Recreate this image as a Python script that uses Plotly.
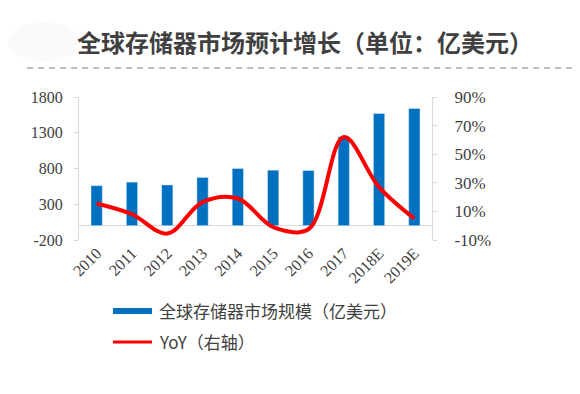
import plotly.graph_objects as go

categories = ["2010", "2011", "2012", "2013", "2014", "2015", "2016", "2017", "2018E", "2019E"]
market_size = [560, 610, 570, 675, 800, 777, 772, 1243, 1570, 1640]
yoy = [0.155, 0.08, -0.055, 0.165, 0.19, -0.01, -0.025, 0.62, 0.27, 0.05]
left_ticks = [-200, 300, 800, 1300, 1800]
right_ticks = [-0.1, 0.1, 0.3, 0.5, 0.7, 0.9]
left_labels = [str(v) for v in left_ticks]
right_labels = [f"{round(v * 100)}%" for v in right_ticks]

serif = "Liberation Serif, Times New Roman, serif"
cjk = "Noto Sans CJK SC"
tick_color = "#404040"
axis_color = "#d9d9d9"

fig = go.Figure()
fig.add_trace(go.Bar(x=categories, y=market_size, marker_color="#0070C0",
                     name="全球存储器市场规模（亿美元）", width=0.32, yaxis="y"))
fig.add_trace(go.Scatter(x=categories, y=yoy, mode="lines",
                         line=dict(color="#FF0000", width=4, shape="spline", smoothing=1.0),
                         name="YoY（右轴）", yaxis="y2"))

fig.update_layout(
    width=580, height=394,
    margin=dict(l=71, r=156, t=89, b=162),
    paper_bgcolor="white", plot_bgcolor="white",
    showlegend=False,
    xaxis=dict(type="category", range=[-0.5, 9.5], tickangle=-45, showline=False, ticks="",
               tickfont=dict(family=serif, size=16, color=tick_color), showgrid=False),
    yaxis=dict(range=[-200, 1800], tickvals=left_ticks, ticktext=left_labels, showgrid=False, zeroline=True,
               zerolinecolor=axis_color, zerolinewidth=1, showline=True, linecolor=axis_color,
               ticks="outside", ticklen=4, tickcolor=axis_color, ticklabelstandoff=8,
               tickfont=dict(family=serif, size=16, color=tick_color)),
    yaxis2=dict(range=[-0.1, 0.9], tickvals=right_ticks, ticktext=right_labels, overlaying="y", side="right",
                showgrid=False, zeroline=False, showline=True, linecolor=axis_color,
                ticks="outside", ticklen=4, tickcolor=axis_color, ticklabelstandoff=14,
                tickfont=dict(family=serif, size=17, color=tick_color)),
    title=dict(text="<b>全球存储器市场预计增长（单位：亿美元）</b>", x=0.512, xanchor="center",
               y=0.909, yanchor="middle",
               font=dict(family=cjk, size=24, color="#404040")),
    shapes=[
        dict(type="circle", xref="paper", yref="paper", x0=-0.201, x1=0.003, y0=1.245, y1=1.524,
             fillcolor="#fafafa", line=dict(width=0), layer="below"),
        dict(type="line", xref="paper", yref="paper", x0=-0.147, x1=1.42, y0=1.203, y1=1.203,
             line=dict(color="#a6a6a6", width=1.5, dash="6px,5px")),
        dict(type="rect", xref="paper", yref="paper", x0=0.0963, x1=0.2068, y0=-0.5175, y1=-0.4755,
             fillcolor="#0070C0", line=dict(width=0)),
        dict(type="line", xref="paper", yref="paper", x0=0.0963, x1=0.2068, y0=-0.713, y1=-0.713,
             line=dict(color="#FF0000", width=3)),
    ],
    annotations=[
        dict(text="全球存储器市场规模（亿美元）", xref="paper", yref="paper", x=0.222, y=-0.4965,
             xanchor="left", yanchor="middle", showarrow=False,
             font=dict(family=cjk, size=17, color="#404040")),
        dict(text="YoY（右轴）", xref="paper", yref="paper", x=0.222, y=-0.713,
             xanchor="left", yanchor="middle", showarrow=False,
             font=dict(family=cjk, size=17, color="#404040")),
    ],
)

fig.write_html("out.html")
